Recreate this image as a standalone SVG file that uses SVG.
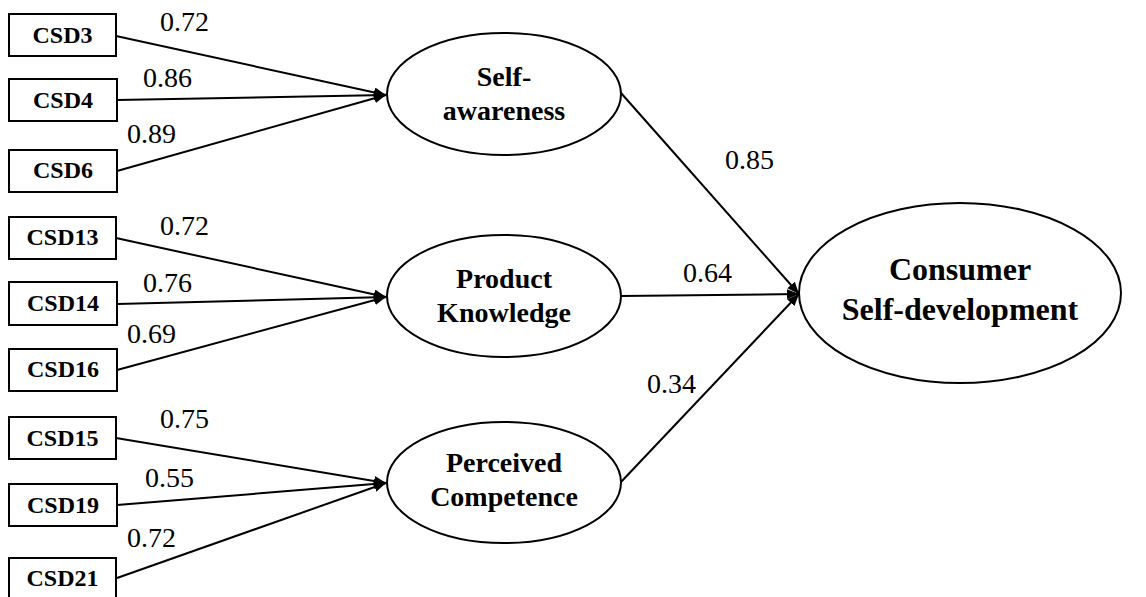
<svg xmlns="http://www.w3.org/2000/svg" width="1146" height="597" viewBox="0 0 1146 597">
<defs>
<style>
.box{fill:#fff;stroke:#000;stroke-width:2}
.ell{fill:#fff;stroke:#000;stroke-width:2}
.bl{font-family:"Liberation Serif","Times New Roman",serif;font-weight:bold;font-size:24px;text-anchor:middle;fill:#000}
.el{font-family:"Liberation Serif","Times New Roman",serif;font-weight:bold;font-size:28px;text-anchor:middle;fill:#000}
.cl{font-family:"Liberation Serif","Times New Roman",serif;font-weight:bold;font-size:32px;text-anchor:middle;fill:#000}
.num{font-family:"Liberation Serif","Times New Roman",serif;font-size:28px;fill:#000}
.con{stroke:#000;stroke-width:2;fill:none;marker-end:url(#arr)}
</style>
<marker id="arr" markerUnits="userSpaceOnUse" markerWidth="12" markerHeight="10" refX="12" refY="5" orient="auto">
<path d="M0,0 L12,5 L0,10 z" fill="#000"/>
</marker>
</defs>
<rect width="1146" height="597" fill="#fff"/>
<g id="connectors">
<line class="con" x1="116" y1="36" x2="386" y2="95"/>
<line class="con" x1="117" y1="100" x2="386" y2="95"/>
<line class="con" x1="117" y1="171" x2="386" y2="95"/>
<line class="con" x1="116" y1="238" x2="386" y2="297"/>
<line class="con" x1="117" y1="304" x2="386" y2="297"/>
<line class="con" x1="117" y1="370" x2="386" y2="297"/>
<line class="con" x1="116" y1="438" x2="386" y2="483"/>
<line class="con" x1="117" y1="505" x2="386" y2="483"/>
<line class="con" x1="117" y1="578" x2="386" y2="483"/>
<line class="con" x1="621" y1="93" x2="799" y2="294"/>
<line class="con" x1="621" y1="296" x2="799" y2="294"/>
<line class="con" x1="621" y1="482" x2="799" y2="294"/>
<text class="num" x="160" y="31">0.72</text>
<text class="num" x="143" y="87">0.86</text>
<text class="num" x="127" y="143">0.89</text>
<text class="num" x="160" y="235">0.72</text>
<text class="num" x="143" y="292">0.76</text>
<text class="num" x="127" y="343">0.69</text>
<text class="num" x="160" y="428">0.75</text>
<text class="num" x="145" y="487">0.55</text>
<text class="num" x="127" y="547">0.72</text>
<text class="num" x="725" y="169">0.85</text>
<text class="num" x="683" y="282">0.64</text>
<text class="num" x="647" y="393">0.34</text>
</g>
<g id="CSD3"><rect class="box" x="9" y="14" width="107" height="42"/><text class="bl" x="62.5" y="43">CSD3</text></g>
<g id="CSD4"><rect class="box" x="9" y="79" width="108" height="42"/><text class="bl" x="63" y="108">CSD4</text></g>
<g id="CSD6"><rect class="box" x="9" y="150" width="108" height="42"/><text class="bl" x="63" y="178">CSD6</text></g>
<g id="CSD13"><rect class="box" x="9" y="217" width="107" height="42"/><text class="bl" x="62.5" y="245">CSD13</text></g>
<g id="CSD14"><rect class="box" x="9" y="282" width="108" height="43"/><text class="bl" x="63" y="311">CSD14</text></g>
<g id="CSD16"><rect class="box" x="9" y="349" width="108" height="42"/><text class="bl" x="63" y="377">CSD16</text></g>
<g id="CSD15"><rect class="box" x="9" y="417" width="107" height="42"/><text class="bl" x="62.5" y="446">CSD15</text></g>
<g id="CSD19"><rect class="box" x="9" y="484" width="108" height="42"/><text class="bl" x="63" y="513">CSD19</text></g>
<g id="CSD21"><rect class="box" x="9" y="558" width="107" height="45"/><text class="bl" x="62.5" y="586">CSD21</text></g>
<g id="self-awareness"><ellipse class="ell" cx="504" cy="94" rx="117" ry="61"/><text class="el" x="504" y="86">Self-</text><text class="el" x="504" y="120">awareness</text></g>
<g id="product-knowledge"><ellipse class="ell" cx="504" cy="296" rx="117" ry="61"/><text class="el" x="504" y="288">Product</text><text class="el" x="504" y="322">Knowledge</text></g>
<g id="perceived-competence"><ellipse class="ell" cx="504" cy="482.5" rx="117" ry="60.5"/><text class="el" x="504" y="472">Perceived</text><text class="el" x="504" y="506">Competence</text></g>
<g id="consumer-self-development"><ellipse class="ell" cx="960" cy="293" rx="161" ry="90"/><text class="cl" x="960" y="280">Consumer</text><text class="cl" x="960" y="320">Self-development</text></g>
</svg>
